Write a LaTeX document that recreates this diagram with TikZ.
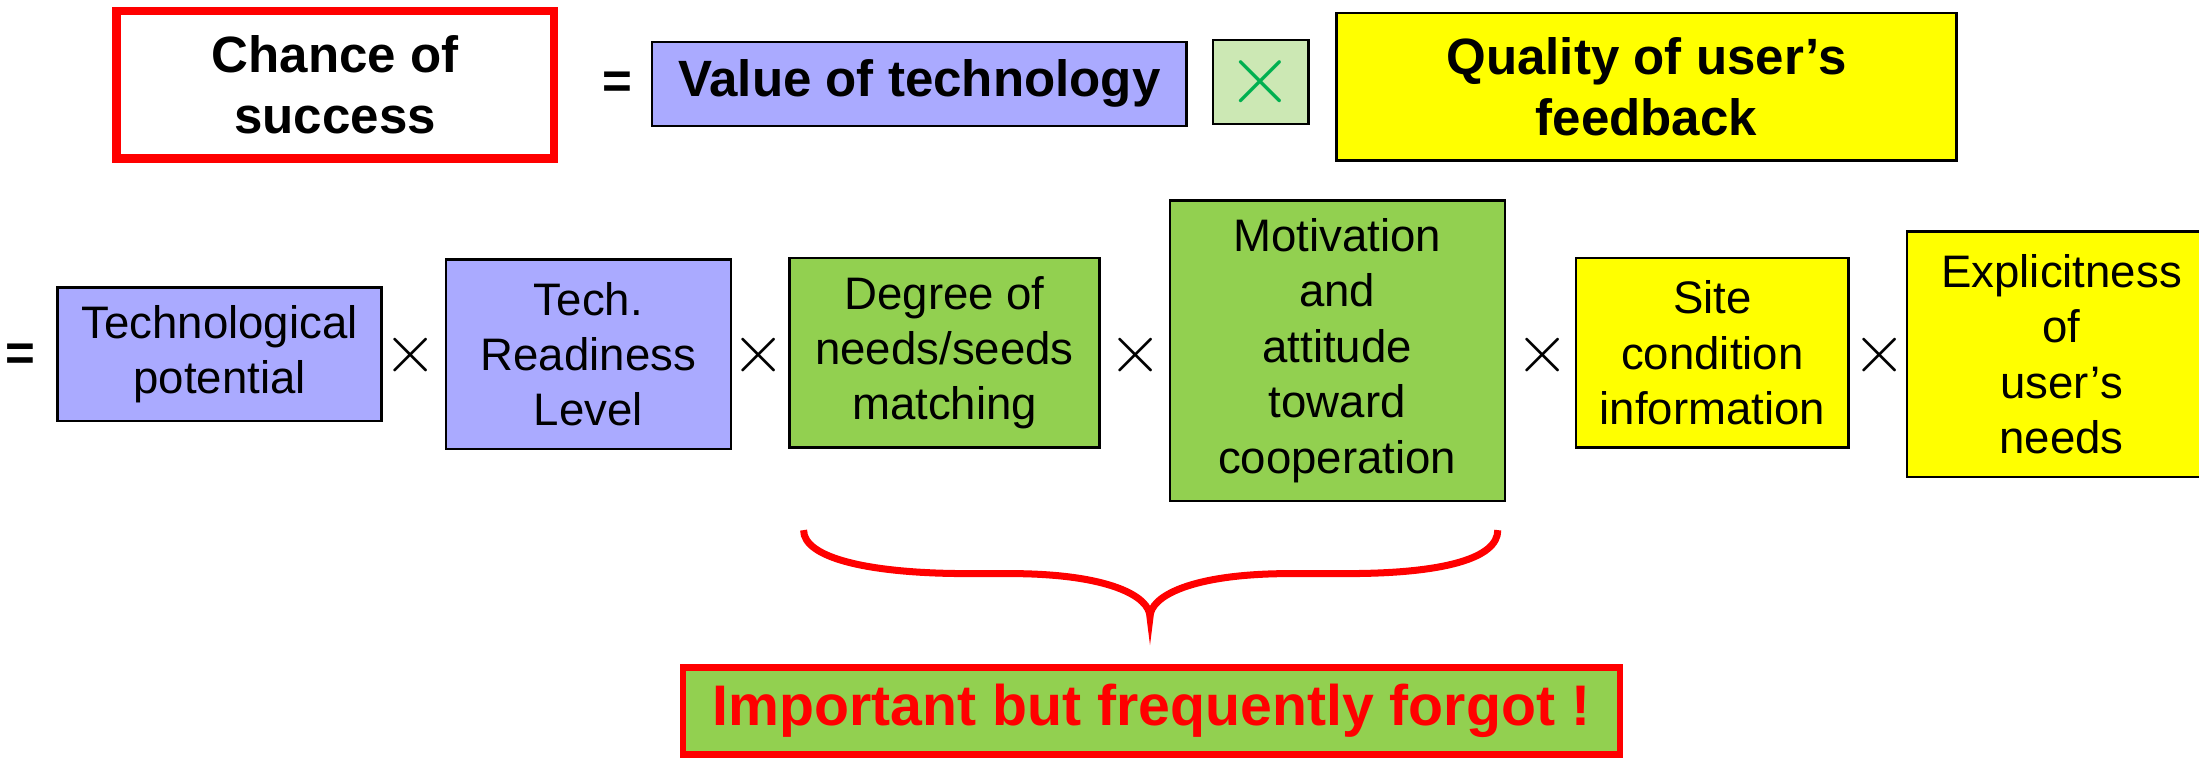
\documentclass[tikz,border=0pt]{standalone}
\usepackage{fontspec}
\setmainfont{Liberation Sans}
\definecolor{peri}{HTML}{AAAAFF}
\definecolor{grn}{HTML}{92D050}
\definecolor{ylw}{HTML}{FFFF00}
\definecolor{lgrn}{HTML}{CCE8B4}
\definecolor{xgrn}{HTML}{00B050}
\begin{document}
\begin{tikzpicture}[x=0.5pt,y=-0.5pt,
  box/.style={draw=black,line width=0.8pt,inner sep=0pt,align=center,font=\fontsize{16.25}{19.75}\selectfont},
  topbox/.style={box,font=\fontsize{18.2}{21.9}\selectfont\bfseries},
  op/.style={inner sep=0pt,font=\fontsize{26}{26}\selectfont},
  eqsign/.style={inner sep=0pt,font=\fontsize{18.2}{21.9}\selectfont\bfseries}]
\useasboundingbox (0,0) rectangle (1568,540.5);
% top row
\node[topbox,draw=red,line width=3pt,minimum width=156pt,minimum height=52.5pt] (chance) at (239,60.5) {Chance of\\success};
\node[eqsign] (eq1) at (440,61) {=};
\node[topbox,fill=peri,minimum width=190.5pt,minimum height=30pt] (value) at (655.5,59.7) {Value of technology};
\node[box,fill=lgrn,minimum width=34pt,minimum height=30pt,font=\fontsize{24.88}{24.88}\selectfont,text=xgrn] (xbox) at (899,58.6) {\scalebox{1.25}{$\times$}};
\node[topbox,fill=ylw,minimum width=221pt,minimum height=52.5pt] (quality) at (1174,62) {Quality of user’s\\feedback};
% second row
\node[eqsign] (eq2) at (14.5,254.5) {=};
\node[box,fill=peri,minimum width=115.5pt,minimum height=47.5pt] (tp) at (156.5,252.5) {Technological\\potential};
\node[op] (x1) at (293,253.5) {$\times$};
\node[box,fill=peri,minimum width=101.5pt,minimum height=67.5pt] (trl) at (419.5,252.5) {Tech.\\Readiness\\Level};
\node[op] (x2) at (541,253.5) {$\times$};
\node[box,fill=grn,minimum width=110.5pt,minimum height=67.5pt] (deg) at (673.5,251.5) {Degree of\\needs/seeds\\matching};
\node[op] (x3) at (810,253.5) {$\times$};
\node[box,fill=grn,minimum width=119.5pt,minimum height=107pt] (mot) at (953.5,250) {Motivation\\and\\attitude\\toward\\cooperation};
\node[op] (x4) at (1100,253.5) {$\times$};
\node[box,fill=ylw,minimum width=97pt,minimum height=67.5pt] (site) at (1221,251.5) {Site\\condition\\information};
\node[op] (x5) at (1340,253.5) {$\times$};
\node[box,fill=ylw,minimum width=110pt,minimum height=87.5pt] (expl) at (1470,252.5) {Explicitness\\of\\user’s\\needs};
% brace
\draw[red,line width=2.5pt] (573,378) .. controls (573,398) and (620,409) .. (690,409) -- (720,409) .. controls (790,409) and (820,425) .. (820,440) .. controls (820,425) and (850,409) .. (920,409) -- (960,409) .. controls (1030,409) and (1068,398) .. (1068,378);
% bottom
\node[box,draw=red,line width=2.2pt,fill=grn,text=red,minimum width=334pt,minimum height=31pt,font=\fontsize{20.4}{24}\selectfont\bfseries] (note) at (821,507) {Important but frequently forgot !};
\end{tikzpicture}
\end{document}
